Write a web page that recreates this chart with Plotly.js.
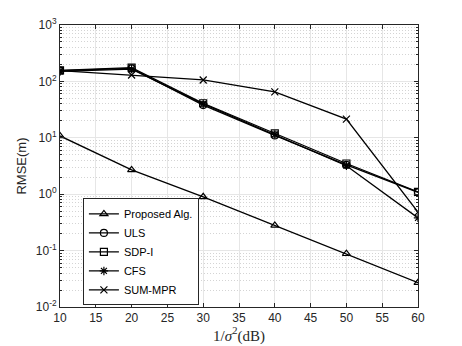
<!DOCTYPE html>
<html>
<head>
<meta charset="utf-8">
<script src="https://cdn.plot.ly/plotly-3.0.1.min.js"></script>
<style>body{margin:0;background:#fff}#myDiv{width:462px;height:346px}</style>
</head>
<body>
<div id="myDiv"></div>
<script>
var snr = [10, 20, 30, 40, 50, 60];
var proposed = [10.8, 2.7, 0.9, 0.28, 0.088, 0.027];
var uls = [155, 170, 38, 11, 3.3, 1.08];
var sdp = [157, 176, 41, 12, 3.5, 1.1];
var cfs = [150, 165, 40, 11.5, 3.2, 0.38];
var summpr = [155, 130, 106, 65, 21.5, 0.48];
var names = ['Proposed Alg.', 'ULS', 'SDP-I', 'CFS', 'SUM-MPR'];
var symbols = ['triangle-up-open', 'circle-open', 'square-open', 'asterisk-open', 'x-thin-open'];
var ytickvals = [0.01, 0.1, 1, 10, 100, 1000];
var yticktext = ['10<sup>-2</sup>', '10<sup>-1</sup>', '10<sup>0</sup>', '10<sup>1</sup>', '10<sup>2</sup>', '10<sup>3</sup>'];

var series = [proposed, uls, sdp, cfs, summpr];
var data = [];
for (var i = 0; i < series.length; i++) {
    data.push({
        x: snr,
        y: series[i],
        name: names[i],
        type: 'scatter',
        mode: 'lines+markers',
        line: {color: '#000', width: 1.3},
        marker: {symbol: symbols[i], size: 7, color: '#000', line: {color: '#000', width: 1.2}}
    });
}

// minor grid positions for log axis
var minorvals = [];
for (var k = -2; k < 3; k++) {
    for (var m = 2; m <= 9; m++) minorvals.push(m * Math.pow(10, k));
}

var layout = {
    width: 462, height: 346,
    margin: {l: 60, r: 44, t: 25, b: 39},
    paper_bgcolor: '#fff', plot_bgcolor: '#fff',
    font: {family: 'Liberation Sans, Arial, sans-serif', size: 11, color: '#262626'},
    showlegend: true,
    legend: {
        x: 0.064, y: 0.385, xanchor: 'left', yanchor: 'top',
        bgcolor: '#fff', bordercolor: '#262626', borderwidth: 1,
        font: {size: 11, color: '#000'},
        tracegroupgap: 0
    },
    xaxis: {
        range: [10, 60], tickvals: [10, 15, 20, 25, 30, 35, 40, 45, 50, 55, 60],
        showgrid: true, gridcolor: '#e6e6e6', gridwidth: 1,
        ticks: 'inside', ticklen: 4, tickcolor: '#262626',
        showline: true, linecolor: '#262626', linewidth: 1, mirror: 'ticks',
        zeroline: false,
        tickfont: {size: 12, color: '#262626'},
        title: {text: '1/<i>σ</i><sup>2</sup>(dB)', font: {family: 'Liberation Serif, DejaVu Serif, serif', size: 15, color: '#262626'}, standoff: 2}
    },
    yaxis: {
        type: 'log', range: [-2, 3],
        tickvals: ytickvals, ticktext: yticktext,
        showgrid: true, gridcolor: '#e6e6e6', gridwidth: 1,
        ticks: 'inside', ticklen: 4, tickcolor: '#262626',
        showline: true, linecolor: '#262626', linewidth: 1, mirror: 'ticks',
        zeroline: false,
        tickfont: {size: 12, color: '#262626'},
        minor: {tickvals: minorvals, showgrid: true, gridcolor: '#d4d4d4', griddash: '1px,2px', gridwidth: 1, ticks: 'inside', ticklen: 2, tickcolor: '#262626'},
        title: {text: 'RMSE(m)', font: {size: 13, color: '#262626'}, standoff: 6}
    }
};

Plotly.newPlot('myDiv', data, layout, {displayModeBar: false, staticPlot: true});
</script>
</body>
</html>
